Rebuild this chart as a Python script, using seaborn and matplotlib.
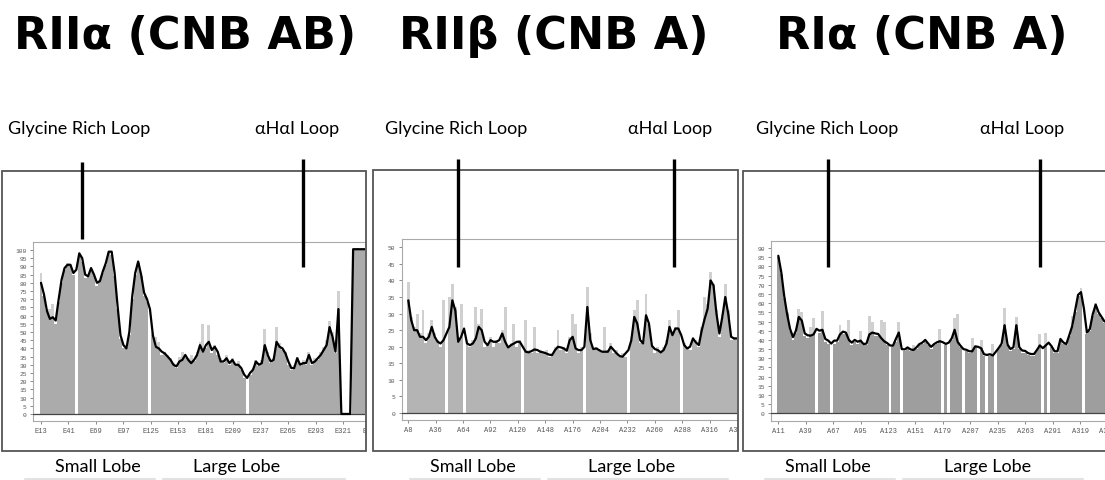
import numpy as np
import pandas as pd
import seaborn as sns
import matplotlib.pyplot as plt
from matplotlib.patches import Rectangle
from matplotlib.lines import Line2D

sns.set_style("white")
plt.rcParams['font.family'] = ['Lato', 'DejaVu Sans']
plt.rcParams['text.color'] = 'black'

# ---- data (every third residue) ----
titles = ["RII\u03b1 (CNB AB)", "RII\u03b2 (CNB A)", "RI\u03b1 (CNB A)"]

res_rii_a = list(range(13, 344, 3))
smooth_rii_a = [80, 73, 63, 58, 59, 57, 70, 82, 89, 91,
                91, 86, 88, 98, 95, 85, 84, 89, 85, 80,
                81, 87, 92, 99, 99, 86, 66, 48, 42, 40,
                50, 72, 86, 93, 85, 74, 70, 64, 48, 41,
                40, 38, 37, 35, 33, 30, 29, 32, 33, 36,
                33, 31, 33, 36, 42, 38, 42, 44, 39, 41,
                38, 32, 32, 34, 31, 33, 30, 30, 28, 24,
                22, 25, 27, 32, 30, 31, 42, 36, 32, 33,
                44, 41, 40, 37, 32, 28, 28, 34, 30, 31,
                31, 36, 31, 32, 34, 36, 39, 42, 53, 47,
                38, 64, 0, 0, 0, 0, 100.5, 100.5, 100.5, 100.5, 100.5]
raw_rii_a = [86, 72, 64, 64, 67, 55, 68, 80, 88, 92,
             90, 85, 0, 97, 93, 83, 85, 88, 84, 78,
             82, 86, 91, 98, 97, 84, 64, 46, 40, 41,
             48, 70, 85, 92, 84, 72, 68, 0, 50, 47,
             44, 36, 38, 36, 34, 31, 28, 35, 38, 34,
             34, 36, 32, 38, 44, 55, 40, 54, 37, 42,
             36, 34, 31, 36, 30, 34, 29, 32, 27, 22,
             0, 24, 28, 33, 29, 33, 52, 38, 31, 34,
             53, 43, 39, 38, 30, 27, 30, 35, 29, 33,
             30, 38, 30, 34, 33, 38, 41, 45, 57, 50,
             37, 75, 0, 0, 0, 0, 100, 100, 100, 100, 100]
ticks_rii_a = ["E13", "E41", "E69", "E97", "E125", "E153", "E181", "E209",
               "E237", "E265", "E293", "E321", "E349"]

res_rii_b = list(range(8, 345, 3))
smooth_rii_b = [34, 28, 25, 25, 23, 23, 22, 23, 26, 23,
                21.5, 21, 22, 24, 26, 34, 31, 21.5, 23, 25.5,
                21, 20.5, 21, 22.5, 26, 25, 21.5, 20.5, 22, 21.5,
                21.5, 22, 24, 21.5, 19.8, 20.5, 21, 21.5, 21.5, 20,
                18.5, 18.3, 18.7, 19.2, 19, 18.5, 18.3, 18, 17.6, 17.5,
                19, 20, 19.8, 19.5, 18.8, 22, 23, 19.5, 19, 19,
                20, 32, 22, 19.3, 19.5, 19, 18.5, 18.5, 18.5, 20,
                19, 18, 17.2, 17, 18, 19, 22, 29, 27, 22,
                21, 29.5, 27, 20.3, 19.3, 19, 18.3, 19, 21, 26,
                23.5, 25.5, 25.5, 23.5, 20.5, 19.5, 20, 22.5, 21.3, 20.5,
                25, 28.5, 31.5, 40, 38.5, 30, 24, 29, 35, 30,
                23, 22.5, 22.5]
raw_rii_b = [39.5, 29, 26, 30, 24, 31, 21, 24, 28, 24,
             22, 20, 34, 0, 35, 39, 32, 22, 33, 0,
             22, 20, 22, 32, 27, 31.5, 20, 21, 23, 20,
             22, 21, 25, 32, 20, 21, 27, 20, 22, 0,
             28, 19, 18, 26, 18, 19, 18, 19, 17, 18,
             20, 25, 19, 20, 18, 23, 30, 27, 18, 20,
             0, 38, 24, 19, 20, 19, 18, 26, 19, 21,
             18, 19, 17, 18, 17, 0, 23, 31, 34, 21,
             22, 36, 27, 21, 18, 20, 18, 20, 22, 28,
             24, 26, 31, 0, 21, 20, 19, 23, 22, 20,
             26, 35, 33, 42.5, 39, 31, 23, 30, 39, 31,
             22, 23, 22]
ticks_rii_b = ["A8", "A36", "A64", "A92", "A120", "A148", "A176", "A204",
               "A232", "A260", "A288", "A316", "A344"]

res_ri_a = list(range(11, 345, 3))
smooth_ri_a = [85.8, 77, 64, 54, 46, 41.5, 45, 52.5, 50.5, 43.5,
               42.5, 42.3, 43, 46, 45, 45.5, 40.5, 39.6, 38, 39.6,
               39.6, 43, 44.5, 44, 40, 38.5, 40, 39, 39.6, 37.7,
               38, 43, 44, 43.5, 43.2, 41, 39.3, 38.3, 37, 36.8,
               40.5, 44, 35, 34.8, 35.9, 34.8, 34.5, 35.9, 37.7, 38.5,
               40, 38, 36.2, 37.7, 38.7, 39.3, 38.7, 37.8, 38.5, 40.8,
               45.5, 39, 36.8, 35, 34.6, 33.8, 33.8, 36.5, 36.2, 35.5,
               32.2, 31.8, 32.2, 31.5, 33.5, 35.6, 38, 48, 37.5, 35,
               36, 48, 36, 34.2, 34, 32.8, 32.3, 32.3, 34.5, 37,
               35.5, 37, 38.5, 36.5, 33.8, 33.8, 40.5, 38.6, 37.7, 42.5,
               47.5, 56, 64.5, 66, 57, 44, 45.9, 54, 59.2, 55,
               52.5, 50]
raw_ri_a = [85, 76, 63, 55, 45, 40, 44, 57, 55, 42,
            41, 47, 52, 0, 44, 55.5, 39, 38, 0, 38,
            39, 48, 43, 43, 51, 37, 39, 38, 45, 37,
            37, 53, 50, 42, 42, 51, 50, 37, 0, 36,
            39, 50, 0, 34, 35, 34, 37, 35, 37, 38,
            39, 37, 35, 37, 38, 46, 0, 37, 0, 40,
            52, 54, 36, 0, 34, 33, 41, 36, 0, 40,
            31, 0, 31, 38, 0, 35, 37, 57.5, 37, 34,
            35, 52.5, 35, 33, 33, 32, 31, 31, 34, 43,
            0, 44, 0, 36, 33, 33, 40, 38, 37, 42,
            53, 55, 64, 68, 0, 43, 45, 53, 60, 54,
            52, 49]
ticks_ri_a = ["A11", "A39", "A67", "A95", "A123", "A151", "A179", "A207",
              "A235", "A263", "A291", "A319", "A347"]

# ---- layout (pixels of the 1105x481 canvas) ----
W, H = 1105, 481


def fig_rect(l, t, r, b):
    return [l / W, 1 - b / H, (r - l) / W, (b - t) / H]


panels = [
    dict(res=res_rii_a, smooth=smooth_rii_a, raw=raw_rii_a, ticks=ticks_rii_a,
         box=(2, 172, 366, 452), inner=(33, 243, 365, 422),
         xlim=(4.85, 343.1), ylim=(-4.3, 104.9), ymax=100, grey='#ababab',
         title_x=185, gly=(8, 82, 163, 240), hai=(255, 303, 160, 268),
         lobes=(98, 237), under=((25, 155), (163, 345))),
    dict(res=res_rii_b, smooth=smooth_rii_b, raw=raw_rii_b, ticks=ticks_rii_b,
         box=(373, 171, 738, 452), inner=(401.7, 240, 737, 420.7),
         xlim=(1.25, 344), ylim=(-2.0, 52.5), ymax=50, grey='#b4b4b4',
         title_x=554, gly=(385, 458, 160, 268), hai=(628, 674, 160, 268),
         lobes=(473, 632), under=((410, 540), (548, 728))),
    dict(res=res_ri_a, smooth=smooth_ri_a, raw=raw_ri_a, ticks=ticks_ri_a,
         box=(743, 172, 1106, 452), inner=(771, 241.7, 1105, 421.7),
         xlim=(3.55, 344.5), ylim=(-4.0, 94), ymax=90, grey='#9e9e9e',
         title_x=922, gly=(756, 828, 160, 268), hai=(980, 1040, 160, 268),
         lobes=(828, 988), under=((765, 895), (903, 1083))),
]

fig = plt.figure(figsize=(W / 100, H / 100), dpi=100)

for title, p in zip(titles, panels):
    df = pd.DataFrame({'res': p['res'], 'raw': p['raw'], 'smooth': p['smooth']})
    df['under'] = np.minimum(df['raw'], df['smooth'])

    ax = fig.add_axes(fig_rect(*p['inner']))
    sns.barplot(data=df, x='res', y='raw', native_scale=True, color='#d0d0d0',
                saturation=1, width=1, linewidth=0, errorbar=None, ax=ax)
    sns.barplot(data=df, x='res', y='under', native_scale=True, color=p['grey'],
                saturation=1, width=1, linewidth=0, errorbar=None, ax=ax)
    ax.axhline(0, color='#444444', lw=0.9, zorder=3)
    sns.lineplot(data=df, x='res', y='smooth', color='black', lw=1.6, ax=ax,
                 zorder=4)

    ax.set_xlim(*p['xlim'])
    ax.set_ylim(*p['ylim'])
    ax.set_xlabel('')
    ax.set_ylabel('')
    tick_pos = [int(t[1:]) for t in p['ticks']]
    ax.set_xticks(tick_pos[:-1])
    ax.set_xticklabels(p['ticks'][:-1], family='Liberation Mono', fontsize=5,
                       color='#555555')
    yt = list(range(0, p['ymax'] + 1, 5))
    ax.set_yticks(yt)
    ax.set_yticklabels([str(v) for v in yt], family='Liberation Mono',
                       fontsize=4.5, color='#555555')
    ax.tick_params(axis='both', direction='out', length=2.5, width=0.6,
                   color='#777777', pad=2, left=True, bottom=True)
    for side in ('left', 'top', 'bottom'):
        ax.spines[side].set_color('#aaaaaa')
        ax.spines[side].set_linewidth(0.8)
    ax.spines['right'].set_visible(False)

    # outer frame
    l, t, r, b = p['box']
    frame = Rectangle((l / W, 1 - b / H), (r - l) / W, (b - t) / H,
                      transform=fig.transFigure, fill=False, ec='#555555',
                      lw=1.3)
    fig.add_artist(frame)

    # last (partly hidden) tick label, cut by the frame as in the original
    last = ax.annotate(p['ticks'][-1], xy=(tick_pos[-1], 0),
                       xycoords=('data', 'axes fraction'), xytext=(0, -4.5),
                       textcoords='offset points', ha='center', va='top',
                       family='Liberation Mono', fontsize=5, color='#555555',
                       annotation_clip=False)
    last.set_clip_path(frame)

    # titles and annotations
    fig.text(p['title_x'] / W, 1 - 49 / H, title, ha='center', va='baseline',
             fontsize=32, fontweight='bold', family='DejaVu Sans')
    fig.text(p['gly'][0] / W, 1 - 134 / H, "Glycine Rich Loop", ha='left',
             va='baseline', fontsize=13)
    fig.text(p['hai'][0] / W, 1 - 134 / H, "\u03b1H\u03b1I Loop", ha='left',
             va='baseline', fontsize=13)
    for _, x, y0, y1 in (p['gly'], p['hai']):
        fig.add_artist(Line2D([x / W, x / W], [1 - y0 / H, 1 - y1 / H],
                              transform=fig.transFigure, color='black',
                              lw=2.4, solid_capstyle='butt'))

    fig.text(p['lobes'][0] / W, 1 - 472 / H, "Small Lobe", ha='center',
             va='baseline', fontsize=13)
    fig.text(p['lobes'][1] / W, 1 - 472 / H, "Large Lobe", ha='center',
             va='baseline', fontsize=13)
    for x0, x1 in p['under']:
        fig.add_artist(Line2D([x0 / W, x1 / W], [1 - 479.5 / H] * 2,
                              transform=fig.transFigure, color='#e2e2e2',
                              lw=1.5))

fig.savefig('out.png', dpi=100)
